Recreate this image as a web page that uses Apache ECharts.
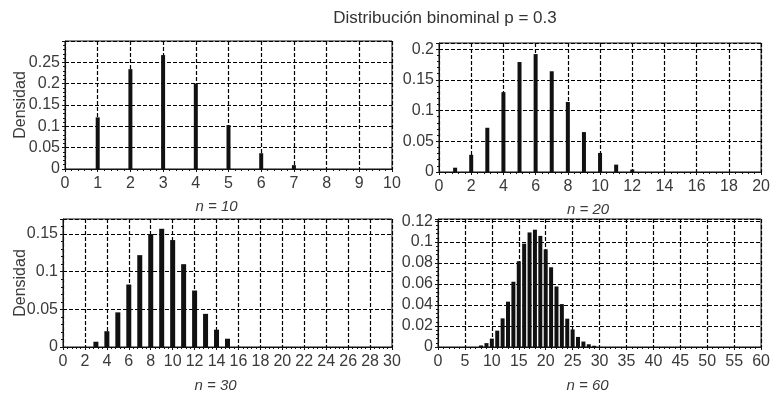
<!DOCTYPE html>
<html>
<head>
<meta charset="utf-8">
<script src="https://cdn.jsdelivr.net/npm/echarts@6/dist/echarts.min.js"></script>
<style>html,body{margin:0;padding:0;background:#fff}#c{width:773px;height:395px}</style>
</head>
<body>
<div id="c"></div>
<script>
// Data (binomial densities, p = 0.3)
var title = 'Distribución binominal p = 0.3';
var yTitle = 'Densidad';
var panelNames = ['n = 10', 'n = 20', 'n = 30', 'n = 60'];

var k10 = [1, 2, 3, 4, 5, 6, 7];
var d10 = [0.121, 0.234, 0.267, 0.200, 0.103, 0.037, 0.009];

var k20 = [1, 2, 3, 4, 5, 6, 7, 8, 9, 10, 11, 12];
var d20 = [0.007, 0.028, 0.072, 0.130, 0.179, 0.192, 0.164, 0.114, 0.065, 0.031, 0.012, 0.004];

var k30 = [3, 4, 5, 6, 7, 8, 9, 10, 11, 12, 13, 14, 15];
var d30 = [0.007, 0.021, 0.046, 0.083, 0.122, 0.150, 0.157, 0.142, 0.110, 0.075, 0.044, 0.023, 0.011];

var k60 = [8, 9, 10, 11, 12, 13, 14, 15, 16, 17, 18, 19, 20, 21, 22, 23, 24, 25, 26, 27, 28, 29];
var d60 = [0.0015, 0.0037, 0.008, 0.0156, 0.0273, 0.0432, 0.0622, 0.0817, 0.0985, 0.1092, 0.1118, 0.1059, 0.0931, 0.076, 0.0577, 0.0409, 0.027, 0.0167, 0.0096, 0.0052, 0.0026, 0.0012];

var xMax = [10, 20, 30, 60];
var xInterval = [1, 2, 2, 5];
var yMax = [0.3, 0.21, 0.17, 0.122];
var yInterval = [0.05, 0.05, 0.05, 0.02];

function pairs(ks, ds) { return ks.map(function (k, i) { return [k, ds[i]]; }); }
var seriesData = [pairs(k10, d10), pairs(k20, d20), pairs(k30, d30), pairs(k60, d60)];

var grids = [
  { left: 65, right: 381, top: 41, bottom: 226 },
  { left: 439, right: 8, top: 43, bottom: 223 },
  { left: 63, right: 381, top: 219, bottom: 48 },
  { left: 438, right: 10, top: 219, bottom: 48 }
];
var barWidths = [4, 4, 5, 4];
var yNameGaps = [36, 0, 34, 0];
var xNameGaps = [30, 30, 31, 31];
var font = 'Liberation Sans, Arial, sans-serif';
var labelColor = '#3a3a3a';
var gridLine = { show: true, lineStyle: { color: '#000', type: [4, 2], width: 1.2 } };

var option = {
  backgroundColor: '#fff',
  animation: false,
  title: { text: title, left: 440, top: 5, textAlign: 'center',
           textStyle: { fontFamily: font, fontSize: 17, fontWeight: 'normal', color: '#333' } },
  grid: grids.map(function (g) {
    return Object.assign({ show: true, borderColor: '#111', borderWidth: 1, backgroundColor: '#fff' }, g);
  }),
  xAxis: grids.map(function (g, i) {
    return {
      type: 'value', gridIndex: i, min: 0, max: xMax[i], interval: xInterval[i],
      name: panelNames[i], nameLocation: 'middle', nameGap: xNameGaps[i], nameMoveOverlap: false,
      nameTextStyle: { fontFamily: font, fontSize: 15, fontStyle: 'italic', color: labelColor, padding: [0, 24, 0, 0] },
      axisLine: { show: true, onZero: false, lineStyle: { color: '#111', width: 1 } },
      axisTick: { show: true, inside: false, length: 3, lineStyle: { color: '#111' } },
      minorTick: { show: true, splitNumber: 5, length: 2, lineStyle: { color: '#111' } },
      axisLabel: { fontFamily: font, fontSize: 16, color: labelColor, margin: 7 },
      splitLine: gridLine
    };
  }),
  yAxis: grids.map(function (g, i) {
    return {
      type: 'value', gridIndex: i, min: 0, max: yMax[i], interval: yInterval[i],
      name: (i % 2 === 0) ? yTitle : '', nameLocation: 'middle', nameGap: yNameGaps[i], nameMoveOverlap: false,
      nameTextStyle: { fontFamily: font, fontSize: 16, color: labelColor },
      axisLine: { show: true, onZero: false, lineStyle: { color: '#111', width: 1 } },
      axisTick: { show: true, inside: false, length: 3, lineStyle: { color: '#111' } },
      minorTick: { show: true, splitNumber: 5, length: 2, lineStyle: { color: '#111' } },
      axisLabel: { fontFamily: font, fontSize: 16, color: labelColor, margin: 5, showMaxLabel: false },
      splitLine: gridLine
    };
  }),
  series: seriesData.map(function (d, i) {
    return {
      type: 'bar', xAxisIndex: i, yAxisIndex: i, data: d, barWidth: barWidths[i],
      itemStyle: { color: '#111' }, z: 3
    };
  })
};

var chart = echarts.init(document.getElementById('c'), null, { renderer: 'canvas' });
chart.setOption(option);
</script>
</body>
</html>
